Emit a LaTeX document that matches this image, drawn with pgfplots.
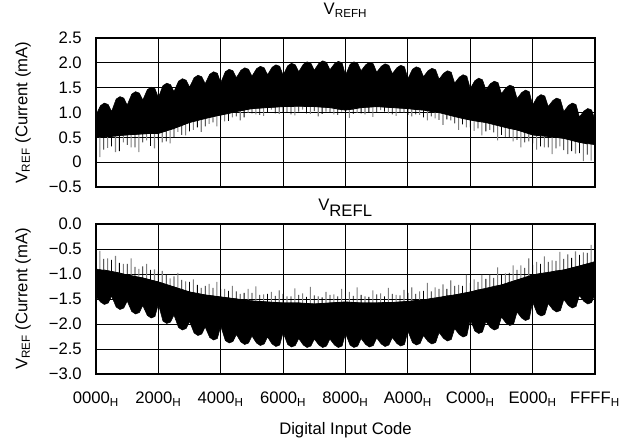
\documentclass[border=0pt]{standalone}
\usepackage{fontspec}
\setmainfont{Liberation Sans}
\usepackage{pgfplots}
\pgfplotsset{compat=1.18}
\pgfplotsset{
  refstyle/.style={
    scale only axis, width=374.25pt,
    xmin=0, xmax=65535, scaled x ticks=false,
    xtick={0,8192,16384,24576,32768,40960,49152,57344,65535},
    grid=major, grid style={black, line width=0.7pt},
    major tick length=0pt,
    axis line style={line width=1.6pt},
    font=\fontsize{12.5}{15}\selectfont,
    yticklabel style={anchor=east, inner sep=0pt, xshift=-10.5pt},
    ylabel={V\textsubscript{REF} (Current (mA)},
    ylabel style={at={(axis description cs:-0.1463,0.5)}, anchor=center},
  }
}
\begin{document}
\begin{tikzpicture}
% ---------------- top: VREFH ----------------
\begin{axis}[refstyle, at={(0,0)}, anchor=south west, height=111.75pt,
  ymin=-0.5, ymax=2.5, ytick={-0.5,0,0.5,1,1.5,2,2.5},
  yticklabels={−0.5,0,0.5,1.0,1.5,2.0,2.5},
  xticklabels={},
  title={V\textsubscript{REFH}},
  title style={at={(0.5,1)}, anchor=base, yshift=11.25pt},
]
% grey hairlines below the band
\addplot[black!50, line width=0.8pt] coordinates {
(512,0.55)(512,0.10)(512,0.55) (1536,0.57)(1536,0.29)(1536,0.57)
(2560,0.58)(2560,0.20)(2560,0.58) (3584,0.60)(3584,0.40)(3584,0.60)
(4608,0.60)(4608,0.30)(4608,0.60) (5632,0.62)(5632,0.20)(5632,0.62)
(6656,0.62)(6656,0.44)(6656,0.62) (7680,0.63)(7680,0.28)(7680,0.63)
(8704,0.65)(8704,0.40)(8704,0.65) (9728,0.70)(9728,0.38)(9728,0.70)
(10752,0.76)(10752,0.61)(10752,0.76) (11776,0.82)(11776,0.54)(11776,0.82)
(12800,0.87)(12800,0.65)(12800,0.87) (13824,0.91)(13824,0.61)(13824,0.91)
(14848,0.95)(14848,0.77)(14848,0.95) (15872,0.98)(15872,0.72)(15872,0.98)
(16896,1.02)(16896,0.82)(16896,1.02) (17920,1.05)(17920,0.90)(17920,1.05)
(18944,1.08)(18944,0.84)(18944,1.08) (19968,1.11)(19968,0.99)(19968,1.11)
(20992,1.14)(20992,0.96)(20992,1.14) (22016,1.15)(22016,0.93)(22016,1.15)
(23040,1.16)(23040,1.06)(23040,1.16) (24064,1.17)(24064,0.97)(24064,1.17)
(25088,1.17)(25088,1.01)(25088,1.17) (26112,1.18)(26112,0.94)(26112,1.18)
(27136,1.18)(27136,1.06)(27136,1.18) (28160,1.17)(28160,0.97)(28160,1.17)
(29184,1.17)(29184,0.92)(29184,1.17) (30208,1.16)(30208,1.02)(30208,1.16)
(31232,1.14)(31232,0.96)(31232,1.14) (32256,1.12)(32256,1.02)(32256,1.12)
(33280,1.11)(33280,0.89)(33280,1.11) (34304,1.14)(34304,0.99)(34304,1.14)
(35328,1.16)(35328,0.96)(35328,1.16) (36352,1.17)(36352,0.91)(36352,1.17)
(37376,1.17)(37376,1.05)(37376,1.17) (38400,1.16)(38400,0.98)(38400,1.16)
(39424,1.15)(39424,0.93)(39424,1.15) (40448,1.14)(40448,1.00)(40448,1.14)
(41472,1.12)(41472,0.92)(41472,1.12) (42496,1.11)(42496,0.95)(42496,1.11)
(43520,1.09)(43520,0.84)(43520,1.09) (44544,1.06)(44544,0.88)(44544,1.06)
(45568,1.03)(45568,0.75)(45568,1.03) (46592,0.99)(46592,0.84)(46592,0.99)
(47616,0.95)(47616,0.65)(47616,0.95) (48640,0.92)(48640,0.70)(48640,0.92)
(49664,0.89)(49664,0.63)(49664,0.89) (50688,0.86)(50688,0.54)(50688,0.86)
(51712,0.83)(51712,0.65)(51712,0.83) (52736,0.79)(52736,0.44)(52736,0.79)
(53760,0.75)(53760,0.51)(53760,0.75) (54784,0.72)(54784,0.42)(54784,0.72)
(55808,0.68)(55808,0.30)(55808,0.68) (56832,0.62)(56832,0.42)(56832,0.62)
(57856,0.59)(57856,0.25)(57856,0.59) (58880,0.58)(58880,0.30)(58880,0.58)
(59904,0.56)(59904,0.16)(59904,0.56) (60928,0.54)(60928,0.32)(60928,0.54)
(61952,0.52)(61952,0.16)(61952,0.52) (62976,0.47)(62976,0.17)(62976,0.47)
(64000,0.44)(64000,0.02)(64000,0.44) (65024,0.41)(65024,0.03)(65024,0.41)
};
% black hairlines below the band
\addplot[black, line width=0.6pt] coordinates {
(1024,0.51)(1024,0.25)(1024,0.51) (2048,0.52)(2048,0.32)(2048,0.52)
(3072,0.54)(3072,0.22)(3072,0.54) (4096,0.55)(4096,0.35)(4096,0.55)
(5120,0.56)(5120,0.30)(5120,0.56) (6144,0.57)(6144,0.40)(6144,0.57)
(7168,0.58)(7168,0.33)(7168,0.58) (8192,0.58)(8192,0.45)(8192,0.58)
(9216,0.63)(9216,0.42)(9216,0.63) (10240,0.68)(10240,0.50)(10240,0.68)
(11264,0.74)(11264,0.55)(11264,0.74) (12288,0.80)(12288,0.62)(12288,0.80)
(13312,0.84)(13312,0.70)(13312,0.84) (14336,0.88)(14336,0.72)(14336,0.88)
(15360,0.92)(15360,0.80)(15360,0.92) (16384,0.95)(16384,0.85)(16384,0.95)
(17408,0.98)(17408,0.83)(17408,0.98) (18432,1.02)(18432,0.92)(18432,1.02)
(19456,1.05)(19456,0.90)(19456,1.05) (20480,1.08)(20480,0.98)(20480,1.08)
(21504,1.09)(21504,0.95)(21504,1.09) (22528,1.10)(22528,1.00)(22528,1.10)
(23552,1.11)(23552,0.98)(23552,1.11) (24576,1.12)(24576,1.00)(24576,1.12)
(25600,1.12)(25600,0.96)(25600,1.12) (26624,1.13)(26624,1.02)(26624,1.13)
(27648,1.12)(27648,0.98)(27648,1.12) (28672,1.12)(28672,1.03)(28672,1.12)
(29696,1.11)(29696,0.97)(29696,1.11) (30720,1.10)(30720,1.00)(30720,1.10)
(31744,1.07)(31744,0.95)(31744,1.07) (32768,1.05)(32768,0.88)(32768,1.05)
(33792,1.07)(33792,0.97)(33792,1.07) (34816,1.10)(34816,0.98)(34816,1.10)
(35840,1.11)(35840,1.01)(35840,1.11) (36864,1.12)(36864,0.99)(36864,1.12)
(37888,1.11)(37888,1.02)(37888,1.11) (38912,1.10)(38912,0.96)(38912,1.10)
(39936,1.09)(39936,0.99)(39936,1.09) (40960,1.08)(40960,0.95)(40960,1.08)
(41984,1.06)(41984,0.96)(41984,1.06) (43008,1.05)(43008,0.90)(43008,1.05)
(44032,1.02)(44032,0.92)(44032,1.02) (45056,1.00)(45056,0.85)(45056,1.00)
(46080,0.96)(46080,0.86)(46080,0.96) (47104,0.92)(47104,0.78)(47104,0.92)
(48128,0.88)(48128,0.76)(48128,0.88) (49152,0.85)(49152,0.70)(49152,0.85)
(50176,0.82)(50176,0.68)(50176,0.82) (51200,0.80)(51200,0.62)(51200,0.80)
(52224,0.76)(52224,0.60)(52224,0.76) (53248,0.72)(53248,0.55)(53248,0.72)
(54272,0.68)(54272,0.50)(54272,0.68) (55296,0.65)(55296,0.45)(55296,0.65)
(56320,0.60)(56320,0.40)(56320,0.60) (57344,0.55)(57344,0.38)(57344,0.55)
(58368,0.53)(58368,0.32)(58368,0.53) (59392,0.52)(59392,0.30)(59392,0.52)
(60416,0.50)(60416,0.28)(60416,0.50) (61440,0.48)(61440,0.24)(61440,0.48)
(62464,0.44)(62464,0.22)(62464,0.44) (63488,0.40)(63488,0.18)(63488,0.40)
(64512,0.37)(64512,0.15)(64512,0.37)
};
% dense band: upper (scalloped) envelope, then lower envelope back
\addplot[fill=black, draw=black, line width=0.4pt] coordinates {
(0,0.95) (600,1.14) (1100,1.19) (1600,1.16)
(2048,1.02) (2648,1.27) (3148,1.32) (3648,1.29)
(4096,1.15) (4696,1.37) (5196,1.42) (5696,1.39)
(6144,1.25) (6744,1.46) (7244,1.51) (7744,1.48)
(8192,1.30) (8792,1.54) (9292,1.59) (9792,1.56)
(10240,1.42) (10840,1.63) (11340,1.68) (11840,1.65)
(12288,1.51) (12888,1.70) (13388,1.75) (13888,1.72)
(14336,1.58) (14936,1.77) (15436,1.82) (15936,1.79)
(16384,1.60) (16984,1.82) (17484,1.87) (17984,1.84)
(18432,1.70) (19032,1.85) (19532,1.90) (20032,1.87)
(20480,1.73) (21080,1.88) (21580,1.93) (22080,1.90)
(22528,1.76) (23128,1.91) (23628,1.96) (24128,1.93)
(24576,1.75) (25176,1.94) (25676,1.99) (26176,1.96)
(26624,1.82) (27224,1.97) (27724,2.02) (28224,1.99)
(28672,1.85) (29272,1.99) (29772,2.04) (30272,2.01)
(30720,1.86) (31320,1.98) (31820,2.03) (32320,2.00)
(32768,1.75) (33368,1.97) (33868,2.02) (34368,1.99)
(34816,1.84) (35416,1.96) (35916,2.01) (36416,1.98)
(36864,1.81) (37464,1.93) (37964,1.98) (38464,1.95)
(38912,1.78) (39512,1.90) (40012,1.95) (40512,1.92)
(40960,1.68) (41560,1.87) (42060,1.92) (42560,1.89)
(43008,1.72) (43608,1.84) (44108,1.89) (44608,1.86)
(45056,1.67) (45656,1.79) (46156,1.84) (46656,1.81)
(47104,1.59) (47704,1.71) (48204,1.76) (48704,1.73)
(49152,1.48) (49752,1.64) (50252,1.69) (50752,1.66)
(51200,1.46) (51800,1.58) (52300,1.63) (52800,1.60)
(53248,1.38) (53848,1.50) (54348,1.55) (54848,1.52)
(55296,1.28) (55896,1.40) (56396,1.45) (56896,1.42)
(57344,1.15) (57944,1.31) (58444,1.36) (58944,1.33)
(59392,1.12) (59992,1.24) (60492,1.29) (60992,1.26)
(61440,1.02) (62040,1.14) (62540,1.19) (63040,1.16)
(63488,0.91) (64088,1.03) (64588,1.08) (65088,1.05)
(65535,0.85)
(65535,0.35) (63488,0.40) (61440,0.48) (59392,0.52) (57344,0.55)
(55296,0.65) (53248,0.72) (51200,0.80) (49152,0.85) (47104,0.92)
(45056,1.00) (43008,1.05) (40960,1.08) (38912,1.10) (36864,1.12)
(34816,1.10) (32768,1.05) (30720,1.10) (28672,1.12) (26624,1.13)
(24576,1.12) (22528,1.10) (20480,1.08) (18432,1.02) (16384,0.95)
(14336,0.88) (12288,0.80) (10240,0.68) (8192,0.58) (6144,0.57)
(4096,0.55) (2048,0.52) (0,0.50)
};
\end{axis}
% ---------------- bottom: VREFL ----------------
\begin{axis}[refstyle, at={(0,-140.25pt)}, anchor=south west, height=112.5pt,
  ymin=-3, ymax=0, ytick={-3,-2.5,-2,-1.5,-1,-0.5,0},
  yticklabels={−3.0,−2.5,−2.0,−1.5,−1.0,−0.5,0.0},
  xticklabels={0000\textsubscript{H},2000\textsubscript{H},4000\textsubscript{H},6000\textsubscript{H},8000\textsubscript{H},A000\textsubscript{H},C000\textsubscript{H},E000\textsubscript{H},FFFF\textsubscript{H}},
  xticklabel style={anchor=base, inner sep=0pt, yshift=-22.5pt},
  xlabel={Digital Input Code},
  xlabel style={at={(axis description cs:0.5,0)}, anchor=base, yshift=-45.75pt},
  title={V\textsubscript{\fontsize{12.5}{15}\selectfont REFL}},
  title style={at={(0.5,1)}, anchor=base, yshift=3.75pt},
]
% grey hairlines above the band
\addplot[black!50, line width=0.8pt] coordinates {
(512,-0.96)(512,-0.54)(512,-0.96) (1536,-0.99)(1536,-0.69)(1536,-0.99)
(2560,-1.02)(2560,-0.64)(2560,-1.02) (3584,-1.05)(3584,-0.80)(3584,-1.05)
(4608,-1.09)(4608,-0.69)(4608,-1.09) (5632,-1.12)(5632,-0.90)(5632,-1.12)
(6656,-1.15)(6656,-0.80)(6656,-1.15) (7680,-1.19)(7680,-0.91)(7680,-1.19)
(8704,-1.24)(8704,-0.94)(8704,-1.24) (9728,-1.29)(9728,-1.09)(9728,-1.29)
(10752,-1.34)(10752,-0.98)(10752,-1.34) (11776,-1.39)(11776,-1.15)(11776,-1.39)
(12800,-1.43)(12800,-1.11)(12800,-1.43) (13824,-1.46)(13824,-1.28)(13824,-1.46)
(14848,-1.48)(14848,-1.20)(14848,-1.48) (15872,-1.50)(15872,-1.16)(15872,-1.50)
(16896,-1.52)(16896,-1.30)(16896,-1.52) (17920,-1.54)(17920,-1.24)(17920,-1.54)
(18944,-1.56)(18944,-1.40)(18944,-1.56) (19968,-1.58)(19968,-1.30)(19968,-1.58)
(20992,-1.60)(20992,-1.25)(20992,-1.60) (22016,-1.61)(22016,-1.41)(22016,-1.61)
(23040,-1.62)(23040,-1.36)(23040,-1.62) (24064,-1.63)(24064,-1.33)(24064,-1.63)
(25088,-1.63)(25088,-1.45)(25088,-1.63) (26112,-1.63)(26112,-1.29)(26112,-1.63)
(27136,-1.63)(27136,-1.39)(27136,-1.63) (28160,-1.64)(28160,-1.26)(28160,-1.64)
(29184,-1.65)(29184,-1.45)(29184,-1.65) (30208,-1.64)(30208,-1.36)(30208,-1.64)
(31232,-1.63)(31232,-1.41)(31232,-1.63) (32256,-1.62)(32256,-1.30)(32256,-1.62)
(33280,-1.62)(33280,-1.36)(33280,-1.62) (34304,-1.63)(34304,-1.27)(34304,-1.63)
(35328,-1.63)(35328,-1.45)(35328,-1.63) (36352,-1.63)(36352,-1.33)(36352,-1.63)
(37376,-1.63)(37376,-1.39)(37376,-1.63) (38400,-1.62)(38400,-1.28)(38400,-1.62)
(39424,-1.62)(39424,-1.42)(39424,-1.62) (40448,-1.60)(40448,-1.32)(40448,-1.60)
(41472,-1.59)(41472,-1.27)(41472,-1.59) (42496,-1.57)(42496,-1.35)(42496,-1.57)
(43520,-1.56)(43520,-1.18)(43520,-1.56) (44544,-1.53)(44544,-1.27)(44544,-1.53)
(45568,-1.51)(45568,-1.21)(45568,-1.51) (46592,-1.48)(46592,-1.13)(46592,-1.48)
(47616,-1.46)(47616,-1.22)(47616,-1.46) (48640,-1.42)(48640,-1.02)(48640,-1.42)
(49664,-1.39)(49664,-1.11)(49664,-1.39) (50688,-1.36)(50688,-1.02)(50688,-1.36)
(51712,-1.32)(51712,-1.02)(51712,-1.32) (52736,-1.29)(52736,-0.87)(52736,-1.29)
(53760,-1.25)(53760,-0.99)(53760,-1.25) (54784,-1.19)(54784,-0.83)(54784,-1.19)
(55808,-1.15)(55808,-0.83)(55808,-1.15) (56832,-1.09)(56832,-0.69)(56832,-1.09)
(57856,-1.06)(57856,-0.76)(57856,-1.06) (58880,-1.03)(58880,-0.65)(58880,-1.03)
(59904,-1.01)(59904,-0.73)(59904,-1.01) (60928,-0.98)(60928,-0.56)(60928,-0.98)
(61952,-0.95)(61952,-0.61)(61952,-0.95) (62976,-0.91)(62976,-0.55)(62976,-0.91)
(64000,-0.87)(64000,-0.57)(64000,-0.87) (65024,-0.82)(65024,-0.42)(65024,-0.82)
};
% black hairlines above the band
\addplot[black, line width=0.6pt] coordinates {
(1024,-0.92)(1024,-0.70)(1024,-0.92) (2048,-0.95)(2048,-0.72)(2048,-0.95)
(3072,-0.98)(3072,-0.78)(3072,-0.98) (4096,-1.02)(4096,-0.80)(4096,-1.02)
(5120,-1.05)(5120,-0.86)(5120,-1.05) (6144,-1.08)(6144,-0.85)(6144,-1.08)
(7168,-1.12)(7168,-0.92)(7168,-1.12) (8192,-1.16)(8192,-0.95)(8192,-1.16)
(9216,-1.21)(9216,-1.02)(9216,-1.21) (10240,-1.26)(10240,-1.05)(10240,-1.26)
(11264,-1.31)(11264,-1.12)(11264,-1.31) (12288,-1.36)(12288,-1.16)(12288,-1.36)
(13312,-1.39)(13312,-1.22)(13312,-1.39) (14336,-1.42)(14336,-1.24)(14336,-1.42)
(15360,-1.44)(15360,-1.28)(15360,-1.44) (16384,-1.46)(16384,-1.30)(16384,-1.46)
(17408,-1.48)(17408,-1.34)(17408,-1.48) (18432,-1.50)(18432,-1.35)(18432,-1.50)
(19456,-1.52)(19456,-1.38)(19456,-1.52) (20480,-1.54)(20480,-1.38)(20480,-1.54)
(21504,-1.55)(21504,-1.42)(21504,-1.55) (22528,-1.56)(22528,-1.40)(22528,-1.56)
(23552,-1.57)(23552,-1.44)(23552,-1.57) (24576,-1.58)(24576,-1.40)(24576,-1.58)
(25600,-1.58)(25600,-1.45)(25600,-1.58) (26624,-1.58)(26624,-1.42)(26624,-1.58)
(27648,-1.59)(27648,-1.46)(27648,-1.59) (28672,-1.60)(28672,-1.43)(28672,-1.60)
(29696,-1.59)(29696,-1.47)(29696,-1.59) (30720,-1.58)(30720,-1.42)(30720,-1.58)
(31744,-1.57)(31744,-1.45)(31744,-1.57) (32768,-1.56)(32768,-1.38)(32768,-1.56)
(33792,-1.57)(33792,-1.44)(33792,-1.57) (34816,-1.58)(34816,-1.42)(34816,-1.58)
(35840,-1.58)(35840,-1.46)(35840,-1.58) (36864,-1.58)(36864,-1.41)(36864,-1.58)
(37888,-1.57)(37888,-1.45)(37888,-1.57) (38912,-1.57)(38912,-1.40)(38912,-1.57)
(39936,-1.56)(39936,-1.43)(39936,-1.56) (40960,-1.55)(40960,-1.38)(40960,-1.55)
(41984,-1.53)(41984,-1.40)(41984,-1.53) (43008,-1.52)(43008,-1.34)(43008,-1.52)
(44032,-1.49)(44032,-1.35)(44032,-1.49) (45056,-1.47)(45056,-1.30)(45056,-1.47)
(46080,-1.44)(46080,-1.30)(46080,-1.44) (47104,-1.42)(47104,-1.24)(47104,-1.42)
(48128,-1.39)(48128,-1.24)(48128,-1.39) (49152,-1.36)(49152,-1.18)(49152,-1.36)
(50176,-1.32)(50176,-1.16)(50176,-1.32) (51200,-1.29)(51200,-1.10)(51200,-1.29)
(52224,-1.25)(52224,-1.08)(52224,-1.25) (53248,-1.22)(53248,-1.02)(53248,-1.22)
(54272,-1.17)(54272,-0.98)(54272,-1.17) (55296,-1.12)(55296,-0.92)(55296,-1.12)
(56320,-1.07)(56320,-0.88)(56320,-1.07) (57344,-1.02)(57344,-0.82)(57344,-1.02)
(58368,-0.99)(58368,-0.80)(58368,-0.99) (59392,-0.97)(59392,-0.76)(59392,-0.97)
(60416,-0.94)(60416,-0.74)(60416,-0.94) (61440,-0.92)(61440,-0.70)(61440,-0.92)
(62464,-0.88)(62464,-0.68)(62464,-0.88) (63488,-0.84)(63488,-0.62)(63488,-0.84)
(64512,-0.80)(64512,-0.58)(64512,-0.80)
};
% dense band: lower (scalloped) envelope, then upper envelope back
\addplot[fill=black, draw=black, line width=0.4pt] coordinates {
(0,-1.45) (600,-1.56) (1100,-1.61) (1600,-1.58)
(2048,-1.44) (2648,-1.66) (3148,-1.71) (3648,-1.68)
(4096,-1.54) (4696,-1.75) (5196,-1.80) (5696,-1.77)
(6144,-1.63) (6744,-1.83) (7244,-1.88) (7744,-1.85)
(8192,-1.60) (8792,-1.94) (9292,-1.99) (9792,-1.96)
(10240,-1.82) (10840,-2.07) (11340,-2.12) (11840,-2.09)
(12288,-1.95) (12888,-2.18) (13388,-2.23) (13888,-2.20)
(14336,-2.06) (14936,-2.27) (15436,-2.32) (15936,-2.29)
(16384,-2.04) (16984,-2.33) (17484,-2.38) (17984,-2.35)
(18432,-2.21) (19032,-2.36) (19532,-2.41) (20032,-2.38)
(20480,-2.24) (21080,-2.38) (21580,-2.43) (22080,-2.40)
(22528,-2.26) (23128,-2.40) (23628,-2.45) (24128,-2.42)
(24576,-2.17) (25176,-2.41) (25676,-2.46) (26176,-2.43)
(26624,-2.29) (27224,-2.42) (27724,-2.47) (28224,-2.44)
(28672,-2.30) (29272,-2.42) (29772,-2.47) (30272,-2.44)
(30720,-2.30) (31320,-2.42) (31820,-2.47) (32320,-2.44)
(32768,-2.19) (33368,-2.42) (33868,-2.47) (34368,-2.44)
(34816,-2.29) (35416,-2.41) (35916,-2.46) (36416,-2.43)
(36864,-2.28) (37464,-2.40) (37964,-2.45) (38464,-2.42)
(38912,-2.27) (39512,-2.39) (40012,-2.44) (40512,-2.41)
(40960,-2.14) (41560,-2.37) (42060,-2.42) (42560,-2.39)
(43008,-2.23) (43608,-2.35) (44108,-2.40) (44608,-2.37)
(45056,-2.17) (45656,-2.29) (46156,-2.34) (46656,-2.31)
(47104,-2.09) (47704,-2.21) (48204,-2.26) (48704,-2.23)
(49152,-1.91) (49752,-2.14) (50252,-2.19) (50752,-2.16)
(51200,-1.95) (51800,-2.07) (52300,-2.12) (52800,-2.09)
(53248,-1.86) (53848,-1.98) (54348,-2.03) (54848,-2.00)
(55296,-1.76) (55896,-1.88) (56396,-1.93) (56896,-1.90)
(57344,-1.56) (57944,-1.79) (58444,-1.84) (58944,-1.81)
(59392,-1.59) (59992,-1.71) (60492,-1.76) (60992,-1.73)
(61440,-1.51) (62040,-1.63) (62540,-1.68) (63040,-1.65)
(63488,-1.43) (64088,-1.55) (64588,-1.60) (65088,-1.57)
(65535,-1.40)
(65535,-0.75) (63488,-0.84) (61440,-0.92) (59392,-0.97) (57344,-1.02)
(55296,-1.12) (53248,-1.22) (51200,-1.29) (49152,-1.36) (47104,-1.42)
(45056,-1.47) (43008,-1.52) (40960,-1.55) (38912,-1.57) (36864,-1.58)
(34816,-1.58) (32768,-1.56) (30720,-1.58) (28672,-1.60) (26624,-1.58)
(24576,-1.58) (22528,-1.56) (20480,-1.54) (18432,-1.50) (16384,-1.46)
(14336,-1.42) (12288,-1.36) (10240,-1.26) (8192,-1.16) (6144,-1.08)
(4096,-1.02) (2048,-0.95) (0,-0.90)
};
\end{axis}
\pgfresetboundingbox
\useasboundingbox (-72pt,-193.5pt) rectangle (405pt,140.25pt);
\end{tikzpicture}
\end{document}
